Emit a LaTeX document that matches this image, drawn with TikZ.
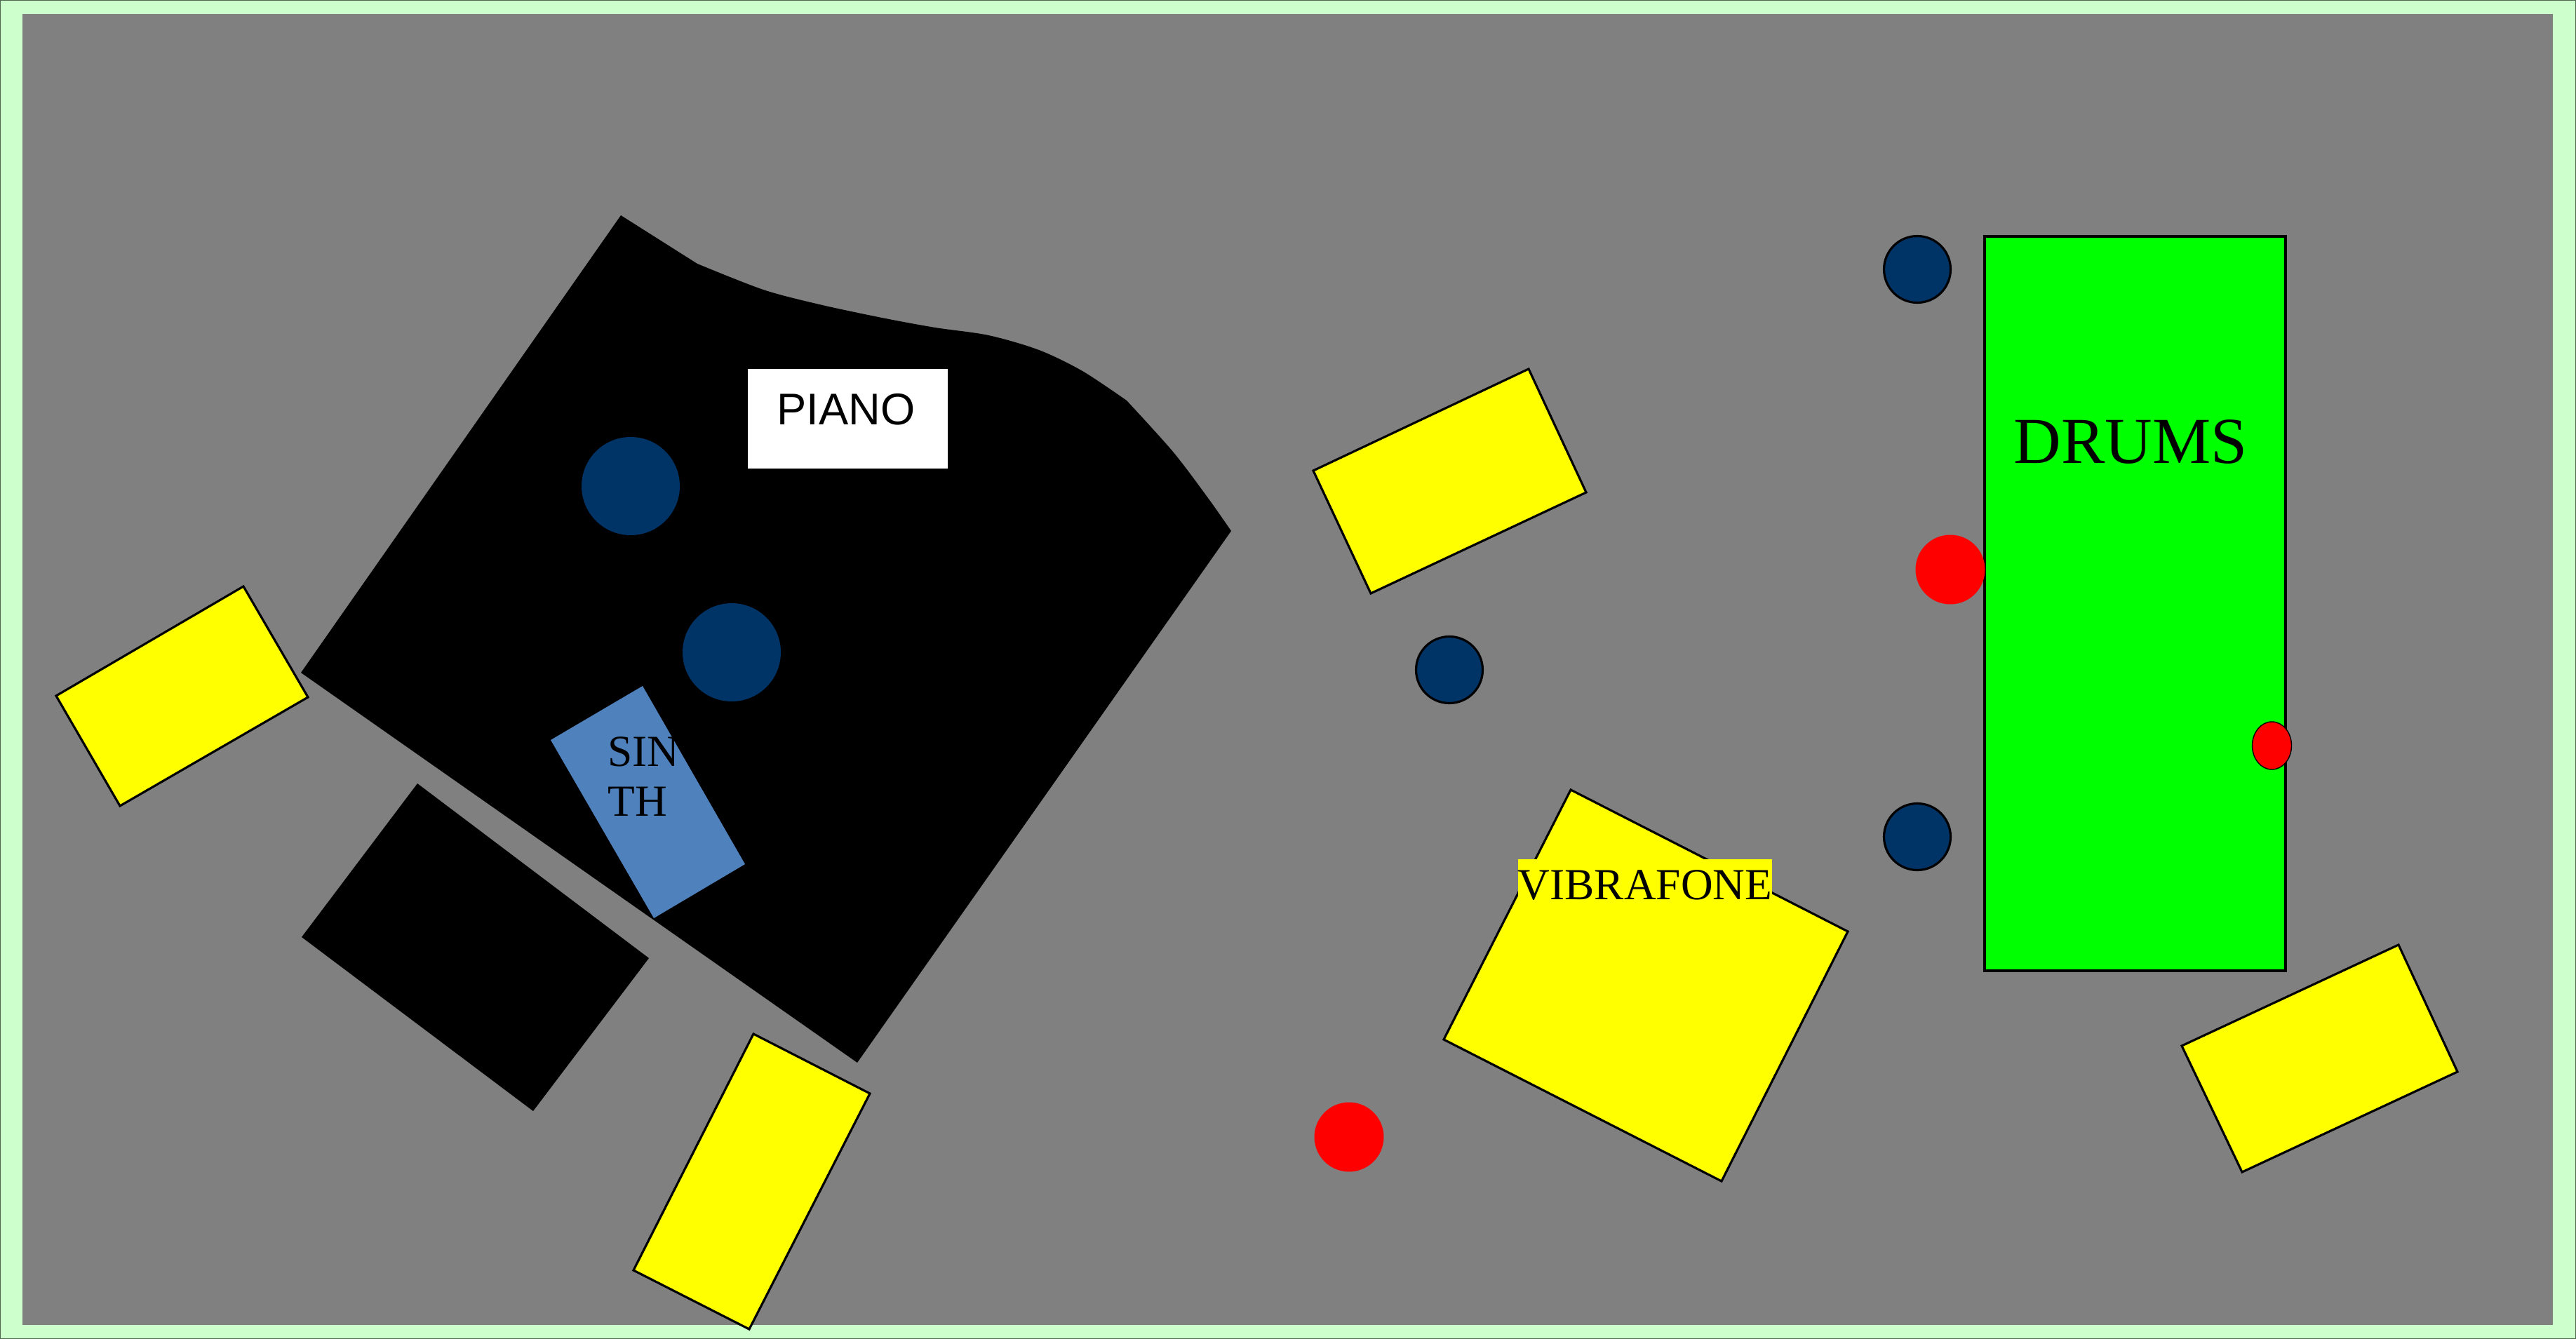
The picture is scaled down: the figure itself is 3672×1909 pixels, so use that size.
\documentclass[tikz,border=0pt]{standalone}
\usepackage{fontspec}
\setmainfont{Liberation Serif}
\newfontfamily\labelsans{Liberation Sans}
\definecolor{framegreen}{HTML}{CCFFCC}
\definecolor{frameedge}{HTML}{4D664D}
\definecolor{stagegray}{HTML}{808080}
\definecolor{micnavy}{HTML}{003366}
\definecolor{synthblue}{HTML}{4F81BD}
\definecolor{drumgreen}{HTML}{00FF00}
\definecolor{riseryellow}{HTML}{FFFF00}
\definecolor{monitorred}{HTML}{FF0000}
\tikzset{
    riser/.style={draw=black,line width=0.9pt,fill=riseryellow},
    micstand/.style={draw=black,line width=0.9pt,fill=micnavy},
    monitor/.style={fill=monitorred},
    caption/.style={inner sep=0pt,anchor=base,font=\fontsize{18}{20.4}\selectfont}
}

\begin{document}
\begin{tikzpicture}[x=0.01cm,y=-0.01cm]
    \useasboundingbox (0,0) rectangle (3672,1909);
    \fill [framegreen] (0,0) rectangle (3672,1909);
    \draw [frameedge,line width=0.3pt] (0.5,0.5) rectangle (3671.5,1908.5);
    \fill [stagegray] (32,20) rectangle (3639,1889);
    % piano and its bench
    \fill (885,307) -- (994,376) -- plot [smooth] coordinates {(994,376) (1088,413) (1168,434) (1257,453) (1333,467) (1409,478) (1481,499) (1543,529) (1606,571)}
        -- plot [smooth] coordinates {(1606,571) (1672,644) (1722,710) (1755,757)} -- (1222,1515) -- (429,959) -- cycle;
    \fill (595,1117) -- (430,1336) -- (760,1584) -- (925,1366) -- cycle;
    \fill [white] (1066,526) rectangle (1351,668);
    \node (piano) [caption,font=\labelsans\fontsize{18}{20.4}\selectfont] at (1206,605) {PIANO};
    \fill [micnavy] (899,693) circle [radius=70];
    \fill [micnavy] (1043,930) circle [radius=70];
    % synth
    \fill [synthblue] (916,978) -- (785,1055) -- (932,1309) -- (1062,1232) -- cycle;
    \node (synth) [caption,align=left,anchor=west] at (866,1107) {SIN\\TH};
    % risers
    \draw [riser] (347,836) -- (80,992) -- (171,1149) -- (439,994) -- cycle;
    \draw [riser] (1074,1474) -- (1240,1559) -- (1068,1895) -- (903,1811) -- cycle;
    \draw [riser] (2179,526) -- (1872,671) -- (1954,846) -- (2261,702) -- cycle;
    \draw [riser] (3419,1347) -- (3110,1491) -- (3196,1671) -- (3503,1528) -- cycle;
    % vibes
    \draw [riser] (2239,1126) -- (2634,1328) -- (2454,1684) -- (2058,1482) -- cycle;
    \node (vibes) [caption,fill=riseryellow,text height=16.2pt,text depth=0.6pt] at (2345,1282) {VIBRAFONE};
    % drums
    \draw [line width=0.9pt,fill=drumgreen] (2829,337) rectangle (3258,1384);
    \node (drums) [caption,font=\fontsize{26.6}{30}\selectfont] at (3037,660) {DRUMS};
    % mics
    \draw [micstand] (2733,384) circle [radius=47.5];
    \draw [micstand] (2733,1193) circle [radius=47.5];
    \draw [micstand] (2066,955) circle [radius=47.5];
    % monitors
    \fill [monitor] (2780,812) circle [radius=49.5];
    \fill [monitor] (1923,1621) circle [radius=49.5];
    \draw [monitor,draw=black,line width=0.4pt] (3238.5,1063) circle [x radius=28,y radius=34];
\end{tikzpicture}
\end{document}
